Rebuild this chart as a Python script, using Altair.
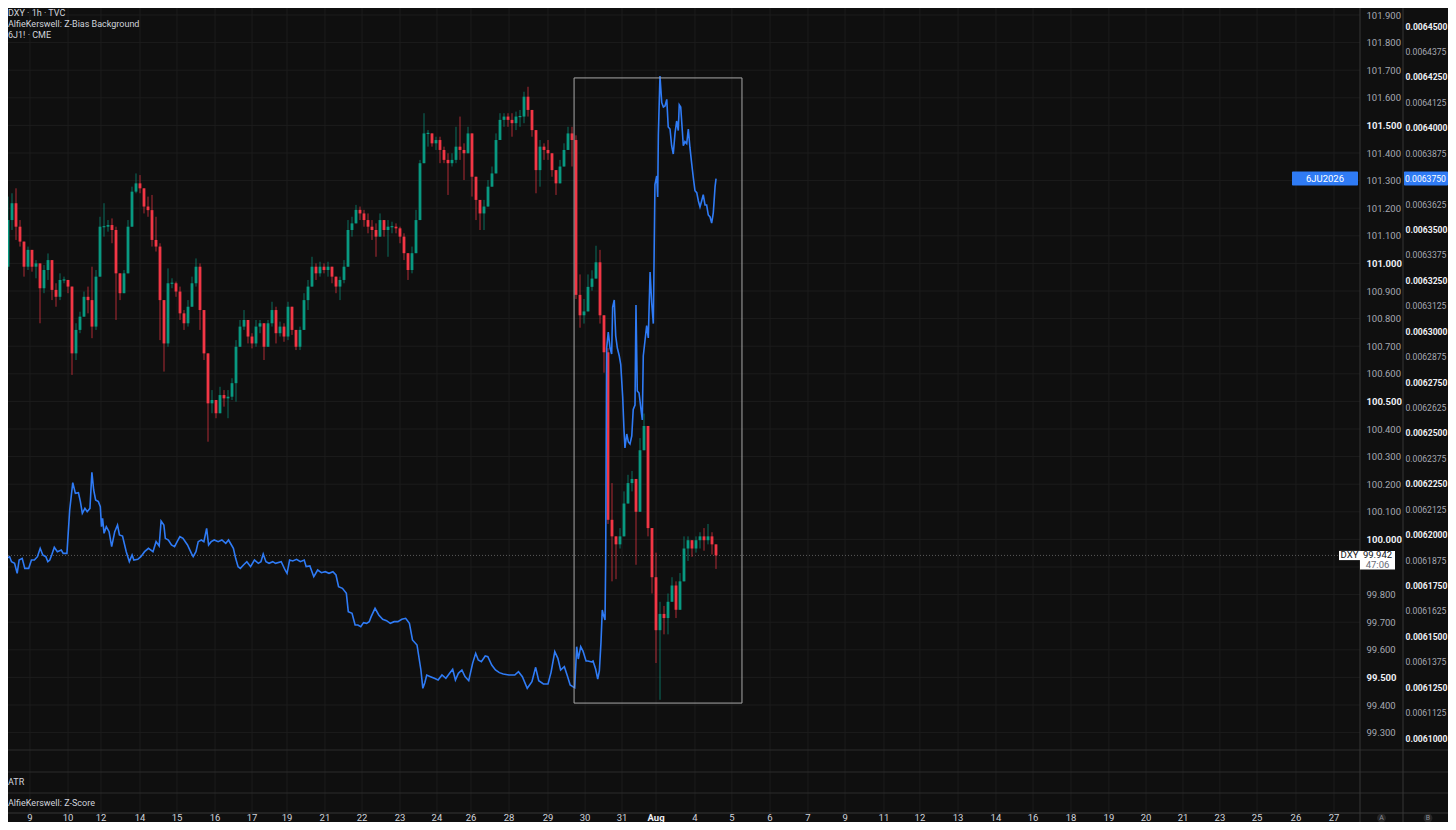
import altair as alt
import numpy as np
import pandas as pd

# ---------------------------------------------------------------- data
# DXY 1h candles (each drawn candle ~2.5 hourly bars)
DXY_FIRST_OPEN = 101.115
DXY_CLOSE = [
    101.085, 100.988, 101.157, 101.218, 101.133, 101.079, 100.988, 101.049, 100.988, 101.000,
    100.910, 100.976, 101.012, 100.904, 100.879, 100.940, 100.940, 100.916, 100.674, 100.759,
    100.807, 100.879, 100.867, 100.771, 100.952, 101.133, 101.133, 101.139, 101.121, 100.964,
    100.892, 100.964, 101.133, 101.260, 101.290, 101.272, 101.206, 101.193, 101.085, 101.061,
    100.867, 100.710, 100.928, 100.928, 100.898, 100.819, 100.783, 100.843, 100.928, 100.988,
    100.831, 100.674, 100.493, 100.505, 100.457, 100.523, 100.511, 100.517, 100.566, 100.698,
    100.771, 100.795, 100.735, 100.710, 100.771, 100.783, 100.698, 100.783, 100.831, 100.747,
    100.771, 100.735, 100.843, 100.759, 100.698, 100.759, 100.867, 100.916, 100.988, 100.964,
    100.988, 100.976, 100.988, 100.952, 100.916, 100.940, 100.988, 101.121, 101.145, 101.194,
    101.181, 101.157, 101.133, 101.121, 101.097, 101.157, 101.121, 101.133, 101.133, 101.127,
    101.097, 101.037, 100.976, 101.037, 101.157, 101.363, 101.471, 101.471, 101.435, 101.447,
    101.411, 101.375, 101.363, 101.375, 101.423, 101.411, 101.399, 101.471, 101.314, 101.230,
    101.181, 101.206, 101.278, 101.326, 101.447, 101.520, 101.532, 101.520, 101.508, 101.532,
    101.532, 101.604, 101.556, 101.483, 101.338, 101.423, 101.411, 101.399, 101.338, 101.290,
    101.351, 101.411, 101.471, 101.447, 100.886, 100.812, 100.826, 100.915, 100.945, 101.004,
    100.812, 100.678, 100.071, 100.011, 99.982, 100.011, 100.130, 100.204, 100.219, 100.100,
    100.323, 100.411, 100.041, 99.863, 99.671, 99.730, 99.715, 99.774, 99.833, 99.745,
    99.848, 99.967, 99.997, 99.967, 99.997, 100.011, 99.997, 100.011, 99.982, 99.942,
]
DXY_HIGH = [
    101.127, 101.085, 101.242, 101.254, 101.272, 101.157, 101.073, 101.061, 101.036, 101.012,
    100.976, 100.994, 101.036, 101.012, 100.928, 100.964, 100.952, 100.940, 100.916, 100.783,
    100.825, 100.898, 100.916, 100.988, 100.976, 101.169, 101.218, 101.157, 101.163, 101.133,
    100.940, 100.976, 101.157, 101.278, 101.326, 101.320, 101.266, 101.242, 101.248, 101.169,
    101.073, 100.771, 100.982, 100.946, 100.934, 100.916, 100.831, 100.867, 100.952, 101.018,
    101.000, 100.759, 100.662, 100.541, 100.505, 100.553, 100.541, 100.541, 100.584, 100.722,
    100.795, 100.831, 100.795, 100.747, 100.795, 100.795, 100.783, 100.795, 100.861, 100.843,
    100.789, 100.783, 100.861, 100.843, 100.759, 100.771, 100.892, 100.940, 101.024, 101.000,
    101.006, 101.000, 101.006, 100.988, 100.952, 100.952, 101.012, 101.157, 101.169, 101.212,
    101.206, 101.194, 101.181, 101.157, 101.145, 101.181, 101.157, 101.157, 101.151, 101.145,
    101.133, 101.109, 101.037, 101.061, 101.194, 101.375, 101.544, 101.483, 101.459, 101.459,
    101.459, 101.423, 101.399, 101.399, 101.495, 101.532, 101.435, 101.495, 101.326, 101.266,
    101.224, 101.230, 101.302, 101.351, 101.471, 101.544, 101.544, 101.544, 101.544, 101.550,
    101.556, 101.622, 101.640, 101.556, 101.483, 101.447, 101.435, 101.447, 101.399, 101.338,
    101.375, 101.435, 101.495, 101.495, 101.464, 100.960, 100.871, 100.960, 100.975, 101.064,
    101.049, 100.812, 100.693, 100.204, 100.011, 100.041, 100.174, 100.234, 100.248, 100.204,
    100.367, 100.456, 100.411, 99.982, 99.952, 99.774, 99.759, 99.804, 99.863, 99.848,
    99.878, 100.011, 100.011, 99.997, 100.011, 100.026, 100.041, 100.056, 100.026, 99.982,
]
DXY_LOW = [
    101.073, 100.952, 100.976, 101.121, 101.085, 101.061, 100.952, 100.976, 100.970, 100.946,
    100.783, 100.892, 100.940, 100.867, 100.843, 100.867, 100.928, 100.892, 100.596, 100.650,
    100.747, 100.807, 100.819, 100.729, 100.759, 100.952, 101.097, 101.115, 101.073, 100.795,
    100.867, 100.892, 101.012, 101.218, 101.254, 101.254, 101.181, 101.169, 101.061, 101.043,
    100.722, 100.608, 100.698, 100.910, 100.879, 100.795, 100.759, 100.771, 100.867, 100.916,
    100.759, 100.650, 100.354, 100.457, 100.439, 100.457, 100.481, 100.439, 100.505, 100.499,
    100.698, 100.759, 100.710, 100.692, 100.698, 100.747, 100.650, 100.698, 100.771, 100.710,
    100.735, 100.716, 100.722, 100.741, 100.686, 100.686, 100.819, 100.831, 100.940, 100.940,
    100.952, 100.964, 100.952, 100.928, 100.892, 100.867, 100.928, 100.988, 101.097, 101.145,
    101.157, 101.133, 101.109, 101.085, 101.024, 101.109, 101.097, 101.024, 101.109, 101.109,
    101.073, 101.012, 100.940, 100.964, 101.037, 101.181, 101.363, 101.423, 101.423, 101.411,
    101.363, 101.363, 101.248, 101.351, 101.363, 101.375, 101.302, 101.423, 101.242, 101.157,
    101.121, 101.121, 101.242, 101.278, 101.363, 101.471, 101.495, 101.495, 101.459, 101.483,
    101.495, 101.508, 101.532, 101.459, 101.254, 101.278, 101.375, 101.375, 101.314, 101.248,
    101.290, 101.351, 101.423, 101.351, 100.871, 100.767, 100.782, 100.871, 100.901, 100.960,
    100.782, 100.604, 100.056, 99.848, 99.856, 99.967, 100.071, 100.145, 100.174, 99.908,
    100.145, 100.397, 100.011, 99.804, 99.552, 99.419, 99.656, 99.656, 99.774, 99.715,
    99.759, 99.922, 99.922, 99.937, 99.952, 99.967, 99.959, 99.982, 99.945, 99.893,
]
CANDLE_SPAN_HOURS = 2.468   # hours covered by each drawn candle

# 6J1! (CME) overlay line: hour index and price
LINE_HOURS = [
    0, 2.4, 3.5, 4.2, 5.9, 7.1, 9.0, 10.6, 11.8, 13.7,
    15.3, 17.7, 19.4, 21.2, 23.1, 24.8, 26.4, 28.3, 29.5, 30.7,
    31.9, 33.5, 35.4, 37.8, 39.0, 41.3, 43.0, 44.9, 46.5, 48.4,
    49.6, 50.8, 52.4, 53.8, 55.5, 56.7, 57.8, 59.0, 60.7, 61.9,
    62.6, 63.3, 64.2, 65.6, 67.3, 68.9, 70.8, 72.5, 73.7, 75.6,
    77.9, 79.8, 81.5, 82.6, 85.0, 86.9, 89.2, 91.6, 94.4, 96.3,
    98.2, 99.4, 101.1, 102.0, 103.9, 105.8, 107.7, 109.3, 111.0, 112.9,
    115.7, 118.1, 119.2, 120.9, 122.3, 124.2, 125.8, 127.5, 128.7, 130.3,
    132.2, 134.6, 136.9, 139.3, 141.0, 142.8, 144.0, 145.4, 146.9, 148.3,
    150.2, 152.3, 154.6, 157.0, 159.4, 161.0, 162.4, 164.1, 166.0, 168.3,
    170.0, 173.5, 175.9, 177.1, 178.7, 180.6, 183.0, 185.3, 187.7, 188.9,
    191.2, 193.6, 196.0, 198.3, 200.7, 203.0, 205.4, 207.3, 208.9, 211.3,
    213.7, 214.9, 217.2, 219.1, 220.8, 222.6, 224.3, 226.2, 227.8, 229.0,
    231.4, 233.7, 236.1, 238.5, 240.8, 243.2, 245.5, 247.9, 250.3, 252.6,
    254.5, 257.3, 259.7, 260.9, 262.1, 263.3, 265.6, 268.0, 270.3, 272.7,
    275.1, 277.4, 279.3, 281.0, 282.8, 285.0, 286.9, 289.2, 291.6, 293.5,
    295.1, 297.0, 299.4, 301.0, 303.4, 305.7, 308.1, 310.5, 314.0, 317.6,
    319.9, 322.3, 325.3, 328.2, 330.5, 332.4, 335.3, 338.1, 340.0, 342.3,
    344.2, 345.9, 348.2, 350.1, 351.8, 353.4, 354.6,
    355.8, 356.8, 358.3, 359.7, 361.6, 362.8, 365.1, 365.9, 367.5, 368.8,
    369.8, 370.8, 371.6, 372.2, 373.3, 373.7, 374.3, 375.3, 376.4, 377.4,
    378.0, 379.0, 379.9, 380.9, 382.1, 383.0, 384.2, 385.0, 385.6, 386.7,
    387.7, 388.7, 389.8, 390.7, 391.8, 392.4, 393.2, 394.3, 395.5, 396.3,
    396.9, 398.0, 399.0, 400.0, 401.1, 402.1, 403.1, 404.1, 405.2, 405.8,
    406.2, 407.2, 408.3, 409.3, 410.3, 411.4, 412.3, 413.4, 414.4, 415.4,
    416.5, 417.5, 418.5, 419.1, 420.0, 421.0, 421.6, 422.6, 423.7, 424.7,
    425.7, 426.8, 427.8, 428.8, 429.9, 430.9, 431.9, 432.9, 433.9, 435.0,
    436.0, 437.0, 438.1, 439.1, 440.1, 441.2, 441.8,
]
LINE_6J = [
    0.00619276, 0.00619898, 0.00619571, 0.00618833, 0.00618915, 0.00618669, 0.00618588, 0.00618096, 0.00618752, 0.00618833,
    0.00618342, 0.00618342, 0.00618752, 0.00618752, 0.00618915, 0.00619325, 0.00618997, 0.00618915, 0.00618669, 0.00618752,
    0.00618997, 0.00619374, 0.00619161, 0.00619243, 0.00619079, 0.00619079, 0.00621209, 0.00622553, 0.00622028, 0.00622061,
    0.00621619, 0.00621045, 0.00621291, 0.00621127, 0.00621291, 0.00623061, 0.00622192, 0.00621701, 0.00621619, 0.00621373,
    0.00620390, 0.00620800, 0.00620062, 0.00620390, 0.00620144, 0.00619407, 0.00620144, 0.00620472, 0.00619980, 0.00619931,
    0.00619161, 0.00618669, 0.00618997, 0.00618752, 0.00618784, 0.00618915, 0.00619161, 0.00619325, 0.00619161, 0.00619653,
    0.00619440, 0.00620669, 0.00620472, 0.00619816, 0.00619735, 0.00619489, 0.00619407, 0.00619653, 0.00619898, 0.00619816,
    0.00619489, 0.00619079, 0.00618915, 0.00619161, 0.00619653, 0.00619735, 0.00619653, 0.00620308, 0.00619489, 0.00619653,
    0.00619735, 0.00619653, 0.00619735, 0.00619571, 0.00619735, 0.00619489, 0.00619325, 0.00618833, 0.00618424, 0.00618342,
    0.00618506, 0.00618669, 0.00618424, 0.00618752, 0.00618588, 0.00618669, 0.00619046, 0.00618669, 0.00618588, 0.00618669,
    0.00618588, 0.00618669, 0.00618260, 0.00618096, 0.00618752, 0.00618702, 0.00618784, 0.00618669, 0.00618752, 0.00618424,
    0.00618457, 0.00617932, 0.00618260, 0.00618129, 0.00618178, 0.00618096, 0.00618178, 0.00618014, 0.00617441, 0.00617359,
    0.00617113, 0.00616212, 0.00616130, 0.00615557, 0.00615557, 0.00615475, 0.00615671, 0.00615639, 0.00615720, 0.00615966,
    0.00616376, 0.00616048, 0.00615835, 0.00615770, 0.00615639, 0.00615720, 0.00615720, 0.00615835, 0.00615884, 0.00615639,
    0.00614819, 0.00614574, 0.00613345, 0.00612444, 0.00612722, 0.00613099, 0.00613017, 0.00612935, 0.00612853, 0.00613099,
    0.00612935, 0.00613181, 0.00613377, 0.00612853, 0.00613181, 0.00613345, 0.00613017, 0.00612820, 0.00613672, 0.00614164,
    0.00613836, 0.00613754, 0.00614032, 0.00614000, 0.00613590, 0.00613345, 0.00613214, 0.00613148, 0.00613099, 0.00613099,
    0.00613263, 0.00613017, 0.00612444, 0.00612771, 0.00613476, 0.00612820, 0.00612656, 0.00612656, 0.00613230, 0.00614246,
    0.00613918, 0.00613345, 0.00613508, 0.00613050, 0.00612607, 0.00612525, 0.00612476,
    0.00614489, 0.00613885, 0.00614489, 0.00614278, 0.00613787, 0.00613787, 0.00613738, 0.00613787, 0.00613393, 0.00612902,
    0.00613295, 0.00614691, 0.00616293, 0.00616097, 0.00615802, 0.00618702, 0.00629172, 0.00629959, 0.00629172, 0.00628877,
    0.00631187, 0.00631532, 0.00629762, 0.00629172, 0.00628779, 0.00628361, 0.00626764, 0.00625141, 0.00624257, 0.00624945,
    0.00624552, 0.00624453, 0.00624846, 0.00626149, 0.00626370, 0.00631286, 0.00627058, 0.00626960, 0.00626149, 0.00625633,
    0.00628779, 0.00629565, 0.00630273, 0.00629664, 0.00632908, 0.00631384, 0.00630371, 0.00637209, 0.00637627, 0.00636594,
    0.00639642, 0.00642542, 0.00641230, 0.00641018, 0.00641068, 0.00641392, 0.00640035, 0.00639937, 0.00639116, 0.00638708,
    0.00639740, 0.00640330, 0.00639863, 0.00641127, 0.00641018, 0.00639839, 0.00639116, 0.00639318, 0.00639219, 0.00639937,
    0.00639018, 0.00638217, 0.00637528, 0.00636904, 0.00636806, 0.00636398, 0.00636103, 0.00636398, 0.00636708, 0.00636201,
    0.00636201, 0.00635710, 0.00635611, 0.00635316, 0.00635808, 0.00637106, 0.00637500,
]

# price scales (tick labels)
DXY_TICKS = [101.9, 101.8, 101.7, 101.6, 101.5, 101.4, 101.3, 101.2, 101.1, 101.0,
             100.9, 100.8, 100.7, 100.6, 100.5, 100.4, 100.3, 100.2, 100.1, 100.0,
             99.9, 99.8, 99.7, 99.6, 99.5, 99.4, 99.3]
J6_TICKS = [0.0064500, 0.0064375, 0.0064250, 0.0064125, 0.0064000, 0.0063875, 0.0063750,
            0.0063625, 0.0063500, 0.0063375, 0.0063250, 0.0063125, 0.0063000, 0.0062875,
            0.0062750, 0.0062625, 0.0062500, 0.0062375, 0.0062250, 0.0062125, 0.0062000,
            0.0061875, 0.0061750, 0.0061625, 0.0061500, 0.0061375, 0.0061250, 0.0061125,
            0.0061000]

# time-axis labels (hour index of each label)
X_LABEL_HOURS = [18.5, 42.0, 62.3, 86.4, 109.2, 132.7, 155.5, 177.1, 200.5, 223.4,
                 246.8, 269.6, 290.6, 314.1, 338.1, 361.0, 383.8, 404.8, 428.8, 451.6,
                 475.1, 498.5, 521.4, 545.4, 567.6, 591.1, 614.5, 637.4, 660.8, 684.2,
                 707.1, 729.9, 752.7, 775.6, 799.6, 823.1]
X_LABEL_TEXT = ["9", "10", "12", "14", "15", "16", "17", "19", "21", "22",
                "23", "24", "26", "28", "29", "30", "31", "Aug", "4", "5",
                "6", "7", "9", "11", "12", "13", "14", "16", "18", "19",
                "20", "21", "23", "25", "26", "27"]

# last values / drawing
DXY_LAST = 99.942
J6_LAST = 0.0063750
J6_SYMBOL = "6JU2026"
DXY_SYMBOL = "DXY"
COUNTDOWN = "47:06"
BOX_HOURS = [354.2, 457.8]
BOX_DXY = [101.672, 99.407]

TITLE_LINES = ["DXY · 1h · TVC", "AlfieKerswell: Z-Bias Background", "6J1! · CME"]
PANE_TITLES = ["ATR", "AlfieKerswell: Z-Score"]

# ---------------------------------------------------------------- styling / layout
W, H = 1440, 814              # whole chart (page offset 8px)
PLOT_R = 1352                 # right edge of price pane
COL_B = 1395                  # start of second price column
XAXIS_TOP = 805
PANE_LINES = [742, 764, 785]
XLAB_Y = 810

BG = "#0f0f0f"
GRID = "#1c1c1c"
SEP = "#2c2c2c"
UP = "#089981"
DOWN = "#f23645"
BLUE = "#2f7bf5"
TXT = "#d1d4dc"
FONT = "Roboto"
J6_FS = 8.6

PX_PER_HOUR = 1 / 0.617
x_lo = 8 / PX_PER_HOUR
x_domain = [x_lo, x_lo + W / PX_PER_HOUR]

PX_PER_DXY = 276.0
dxy_top = 101.9 + 7 / PX_PER_DXY
dxy_domain = [dxy_top - H / PX_PER_DXY, dxy_top]

PX_PER_J6 = 25.43 / 0.0000125
j6_top = 0.00645 + 18 / PX_PER_J6
j6_domain = [j6_top - H / PX_PER_J6, j6_top]

xs = alt.Scale(domain=x_domain, nice=False, zero=False)
ys_dxy = alt.Scale(domain=dxy_domain, nice=False, zero=False)
ys_j6 = alt.Scale(domain=j6_domain, nice=False, zero=False)
dir_scale = alt.Scale(domain=["up", "down"], range=[UP, DOWN])

# ---------------------------------------------------------------- frames
close = np.array(DXY_CLOSE)
open_ = np.concatenate([[DXY_FIRST_OPEN], close[:-1]])
high = np.maximum.reduce([np.array(DXY_HIGH), open_, close])
low = np.minimum.reduce([np.array(DXY_LOW), open_, close])
bt = np.maximum(open_, close)
bb = np.minimum(open_, close)
minh = 1.2 / PX_PER_DXY
mid = (bt + bb) / 2
small = (bt - bb) < minh
bt = np.where(small, mid + minh / 2, bt)
bb = np.where(small, mid - minh / 2, bb)
candles = pd.DataFrame({
    "t": np.arange(len(close)) * CANDLE_SPAN_HOURS,
    "low": low, "high": high, "bt": bt, "bb": bb,
    "dir": np.where(close >= open_, "up", "down"),
})
line_df = pd.DataFrame({"t": LINE_HOURS, "p": LINE_6J})
xlab = pd.DataFrame({"t": X_LABEL_HOURS, "label": X_LABEL_TEXT})
xlab_norm = xlab[xlab["label"] != "Aug"]
xlab_bold = xlab[xlab["label"] == "Aug"]
dxy_grid = pd.DataFrame({"v": DXY_TICKS})
one = pd.DataFrame({"_": [0]})

dxy_axis_vals = [v for v in DXY_TICKS if abs(v - DXY_LAST) > 0.05]
j6_axis_vals = [v for v in J6_TICKS if abs(v - J6_LAST) > 0.000006]

dxy_bold = "abs(datum.value*2 - round(datum.value*2)) < 0.001"
j6_bold = "abs(datum.value*40000 - round(datum.value*40000)) < 0.01"


def price_axis(offset, values, fmt, test, pad, fs):
    return alt.Axis(
        orient="right", offset=offset, values=values, format=fmt, grid=False,
        domain=False, ticks=False, labelPadding=pad, labelFont=FONT, labelFontSize=fs,
        labelColor={"condition": {"test": test, "value": "#eceef3"}, "value": "#a6a9b2"},
        labelFontWeight={"condition": {"test": test, "value": "bold"}, "value": "normal"},
        title=None, labelOverlap=False, labelFlush=False, labelBound=False,
        labelAlign="left", labelBaseline="middle",
    )


layers = []

# grid
layers.append(alt.Chart(xlab).mark_rule(color=GRID, strokeWidth=1).encode(
    x=alt.X("t:Q", scale=xs, axis=None), y=alt.value(0), y2=alt.value(XAXIS_TOP)))
layers.append(alt.Chart(dxy_grid).mark_rule(color=GRID, strokeWidth=1).encode(
    y=alt.Y("v:Q", scale=ys_dxy, axis=None), x=alt.value(0), x2=alt.value(PLOT_R)))

# pane separators
for yy in PANE_LINES:
    layers.append(alt.Chart(one).mark_rule(color=SEP, strokeWidth=1).encode(
        x=alt.value(0), x2=alt.value(W), y=alt.value(yy)))
layers.append(alt.Chart(one).mark_rule(color="#363636", strokeWidth=1).encode(
    x=alt.value(0), x2=alt.value(W), y=alt.value(XAXIS_TOP)))
for xx in (PLOT_R, COL_B):
    layers.append(alt.Chart(one).mark_rule(color="#363636", strokeWidth=1).encode(
        x=alt.value(xx), y=alt.value(0), y2=alt.value(H)))

# last-price dotted line
layers.append(alt.Chart(pd.DataFrame({"p": [DXY_LAST]})).mark_rule(
    color="#5a5a5a", strokeWidth=1, strokeDash=[1, 2]).encode(
    y=alt.Y("p:Q", scale=ys_dxy, axis=None), x=alt.value(0), x2=alt.value(1331)))

# candles
layers.append(alt.Chart(candles).mark_rule(strokeWidth=1, opacity=0.7, clip=True).encode(
    x=alt.X("t:Q", scale=xs, axis=None),
    y=alt.Y("low:Q", scale=ys_dxy,
            axis=price_axis(PLOT_R - W, dxy_axis_vals, ".3f", dxy_bold, 6, 9.5)),
    y2="high:Q",
    color=alt.Color("dir:N", scale=dir_scale, legend=None)))
layers.append(alt.Chart(candles).mark_rule(strokeWidth=2.8, clip=True).encode(
    x=alt.X("t:Q", scale=xs, axis=None),
    y=alt.Y("bb:Q", scale=ys_dxy, axis=None), y2="bt:Q",
    color=alt.Color("dir:N", scale=dir_scale, legend=None)))

# 6J line
layers.append(alt.Chart(line_df).mark_line(color=BLUE, strokeWidth=1.6, clip=True).encode(
    x=alt.X("t:Q", scale=xs, axis=None),
    y=alt.Y("p:Q", scale=ys_j6,
            axis=price_axis(COL_B - W, j6_axis_vals, ".7f", j6_bold, 2, J6_FS))))

# rectangle drawing
box_df = pd.DataFrame({"x1": [BOX_HOURS[0]], "x2": [BOX_HOURS[1]],
                       "y1": [BOX_DXY[0]], "y2": [BOX_DXY[1]]})
layers.append(alt.Chart(box_df).mark_rect(fillOpacity=0, stroke="#a8a8a8", strokeWidth=1).encode(
    x=alt.X("x1:Q", scale=xs, axis=None), x2="x2:Q",
    y=alt.Y("y1:Q", scale=ys_dxy, axis=None), y2="y2:Q"))

# 6J tags
hj = 7 / PX_PER_J6
j6_tag = pd.DataFrame({"p": [J6_LAST], "top": [J6_LAST + hj], "bot": [J6_LAST - hj]})
for (xa, xb) in ((1284, 1350), (1396, 1440)):
    layers.append(alt.Chart(j6_tag).mark_rect(color=BLUE, cornerRadius=1).encode(
        x=alt.value(xa), x2=alt.value(xb),
        y=alt.Y("top:Q", scale=ys_j6, axis=None), y2="bot:Q"))
layers.append(alt.Chart(j6_tag).mark_text(text=J6_SYMBOL, color="white", font=FONT, fontSize=9.5,
                                          align="center", baseline="middle").encode(
    x=alt.value(1317), y=alt.Y("p:Q", scale=ys_j6, axis=None)))
layers.append(alt.Chart(j6_tag).mark_text(text=f"{J6_LAST:.7f}", color="white", font=FONT,
                                          fontSize=J6_FS, align="left", baseline="middle").encode(
    x=alt.value(COL_B + 2), y=alt.Y("p:Q", scale=ys_j6, axis=None)))

# DXY tags
dxy_tag = pd.DataFrame({
    "p": [DXY_LAST],
    "top": [DXY_LAST + 4.5 / PX_PER_DXY],
    "bot_s": [DXY_LAST - 4.7 / PX_PER_DXY],
    "bot_v": [DXY_LAST - 14 / PX_PER_DXY],
    "cd": [DXY_LAST - 9.2 / PX_PER_DXY],
})
layers.append(alt.Chart(dxy_tag).mark_rect(color="#ffffff").encode(
    x=alt.value(1331), x2=alt.value(PLOT_R),
    y=alt.Y("top:Q", scale=ys_dxy, axis=None), y2="bot_s:Q"))
layers.append(alt.Chart(dxy_tag).mark_rect(color="#ffffff").encode(
    x=alt.value(PLOT_R), x2=alt.value(1387),
    y=alt.Y("top:Q", scale=ys_dxy, axis=None), y2="bot_v:Q"))
layers.append(alt.Chart(dxy_tag).mark_text(text=DXY_SYMBOL, color="#131722", font=FONT, fontSize=9.5,
                                           align="center", baseline="middle").encode(
    x=alt.value(1341.5), y=alt.Y("p:Q", scale=ys_dxy, axis=None)))
layers.append(alt.Chart(dxy_tag).mark_text(text=f"{DXY_LAST:.3f}", color="#131722", font=FONT,
                                           fontSize=9.5, align="center", baseline="middle").encode(
    x=alt.value(1369.5), y=alt.Y("p:Q", scale=ys_dxy, axis=None)))
layers.append(alt.Chart(dxy_tag).mark_text(text=COUNTDOWN, color="#6a6d78", font=FONT,
                                           fontSize=9.5, align="center", baseline="middle").encode(
    x=alt.value(1369.5), y=alt.Y("cd:Q", scale=ys_dxy, axis=None)))

# time-axis labels
layers.append(alt.Chart(xlab_norm).mark_text(font=FONT, fontSize=9.5, color=TXT, baseline="middle",
                                             align="center").encode(
    x=alt.X("t:Q", scale=xs, axis=None), y=alt.value(XLAB_Y), text="label:N"))
layers.append(alt.Chart(xlab_bold).mark_text(font=FONT, fontSize=9.5, color="#eef0f5",
                                             fontWeight="bold", baseline="middle",
                                             align="center").encode(
    x=alt.X("t:Q", scale=xs, axis=None), y=alt.value(XLAB_Y), text="label:N"))

# legend texts
for i, s in enumerate(TITLE_LINES):
    layers.append(alt.Chart(one).mark_text(text=s, font=FONT, fontSize=9, color=TXT,
                                           align="left", baseline="middle").encode(
        x=alt.value(0), y=alt.value(4.5 + 11 * i)))
for s, yy in zip(PANE_TITLES, (774, 795)):
    layers.append(alt.Chart(one).mark_text(text=s, font=FONT, fontSize=9, color=TXT,
                                           align="left", baseline="middle").encode(
        x=alt.value(0), y=alt.value(yy)))

# A / B scale buttons
for s, xx in (("A", 1373.5), ("B", 1420)):
    layers.append(alt.Chart(one).mark_circle(size=80, color="#262626", opacity=1).encode(
        x=alt.value(xx), y=alt.value(XLAB_Y)))
    layers.append(alt.Chart(one).mark_text(text=s, font=FONT, fontSize=7, color="#8a8d96",
                                           align="center", baseline="middle").encode(
        x=alt.value(xx), y=alt.value(XLAB_Y)))

chart = alt.layer(*layers).resolve_scale(y="independent").properties(
    width=W, height=H, autosize=alt.AutoSizeParams(type="none"), padding=0,
).configure(background=BG).configure_view(strokeWidth=0)

chart.save("out.html", embed_options={"renderer": "svg", "actions": False})
